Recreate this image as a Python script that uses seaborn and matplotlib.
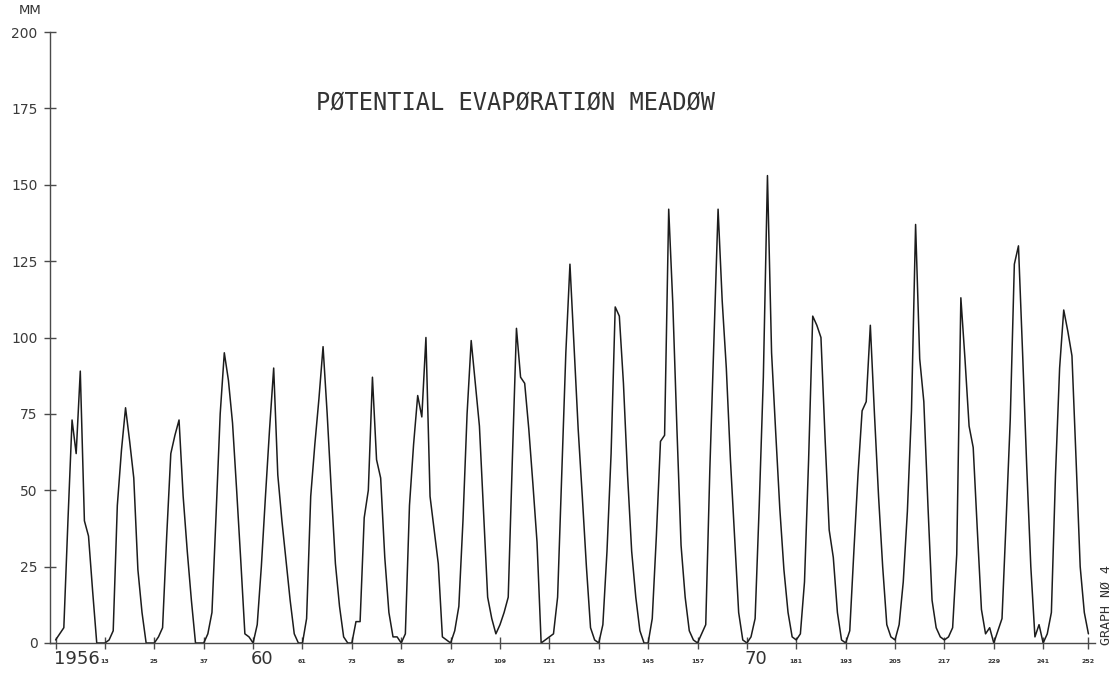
import matplotlib
matplotlib.use("Agg")
import matplotlib.pyplot as plt
import numpy as np
import pandas as pd
import seaborn as sns

# Monthly potential evaporation (mm) from a meadow, January to December
pe_1956 = [1, 3, 5, 40, 73, 62, 89, 40, 35, 17, 0, 0]
pe_1957 = [0, 1, 4, 45, 63, 77, 66, 54, 24, 10, 0, 0]
pe_1958 = [0, 2, 5, 35, 62, 68, 73, 48, 30, 14, 0, 0]
pe_1959 = [0, 3, 10, 42, 75, 95, 86, 72, 50, 27, 3, 2]
pe_1960 = [0, 6, 25, 48, 70, 90, 55, 40, 27, 14, 3, 0]
pe_1961 = [0, 8, 48, 65, 80, 97, 75, 50, 26, 12, 2, 0]
pe_1962 = [0, 7, 7, 41, 50, 87, 60, 54, 28, 10, 2, 2]
pe_1963 = [0, 3, 45, 65, 81, 74, 100, 48, 37, 26, 2, 1]
pe_1964 = [0, 4, 12, 40, 75, 99, 85, 71, 43, 15, 8, 3]
pe_1965 = [6, 10, 15, 60, 103, 87, 85, 70, 52, 33, 0, 1]
pe_1966 = [2, 3, 15, 55, 95, 124, 97, 70, 48, 25, 5, 1]
pe_1967 = [0, 6, 30, 62, 110, 107, 85, 55, 30, 15, 4, 0]
pe_1968 = [0, 8, 35, 66, 68, 142, 111, 70, 32, 15, 4, 1]
pe_1969 = [0, 3, 6, 57, 100, 142, 112, 90, 60, 35, 10, 1]
pe_1970 = [0, 2, 8, 45, 87, 153, 95, 69, 44, 24, 10, 2]
pe_1971 = [1, 3, 20, 60, 107, 104, 100, 67, 37, 28, 10, 1]
pe_1972 = [0, 4, 30, 55, 76, 79, 104, 75, 48, 25, 6, 2]
pe_1973 = [1, 6, 20, 43, 76, 137, 93, 79, 45, 14, 5, 2]
pe_1974 = [1, 2, 5, 29, 113, 93, 71, 64, 37, 11, 3, 5]
pe_1975 = [0, 4, 8, 40, 73, 124, 130, 95, 58, 25, 2, 6]
pe_1976 = [0, 3, 10, 55, 90, 109, 102, 94, 60, 25, 10, 3]

yearly = [pe_1956, pe_1957, pe_1958, pe_1959, pe_1960, pe_1961, pe_1962,
          pe_1963, pe_1964, pe_1965, pe_1966, pe_1967, pe_1968, pe_1969,
          pe_1970, pe_1971, pe_1972, pe_1973, pe_1974, pe_1975, pe_1976]

# Axis ticks: month numbers, with the year shown at Jan 1956, 1960 and 1970
x_tick_months = [1, 13, 25, 37, 49, 61, 73, 85, 97, 109, 121, 133, 145, 157,
                 169, 181, 193, 205, 217, 229, 241, 252]
x_tick_labels = ["1956", "13", "25", "37", "60", "61", "73", "85", "97", "109",
                 "121", "133", "145", "157", "70", "181", "193", "205", "217",
                 "229", "241", "252"]
year_labels = ["1956", "60", "70"]
y_ticks = [0, 25, 50, 75, 100, 125, 150, 175, 200]

title = "PØTENTIAL EVAPØRATIØN MEADØW"
unit = "MM"
graph_no = "GRAPH NØ 4"

values = np.concatenate(yearly)
df = pd.DataFrame({"month": np.arange(1, len(values) + 1), "mm": values})

sns.set_style("white")
plt.rcParams["font.family"] = ["DejaVu Sans"]

W, H = 1117, 675
fig = plt.figure(figsize=(W / 100, H / 100), dpi=100)
fig.patch.set_facecolor("white")
ax = fig.add_axes([50 / W, 1 - 643 / H, 1045 / W, 611 / H])
ax.set_facecolor("white")

sns.lineplot(data=df, x="month", y="mm", ax=ax, color="#1c1c1c",
             linewidth=1.1, estimator=None)

ax.set_xlim(-0.36, 253.6)
ax.set_ylim(0, 200)
ax.set_xlabel("")
ax.set_ylabel("")

for side in ("top", "right"):
    ax.spines[side].set_visible(False)
for side in ("left", "bottom"):
    ax.spines[side].set_color("#4a4a4a")
    ax.spines[side].set_linewidth(1.0)

ax.set_yticks(y_ticks)
ax.set_yticklabels([str(v) for v in y_ticks], fontsize=10, color="#3a3a3a")
ax.set_xticks(x_tick_months)
ax.set_xticklabels([])
ax.tick_params(axis="both", which="major", bottom=True, left=True,
               direction="inout", length=8, width=1.0, color="#4a4a4a")
ax.tick_params(axis="y", pad=5)

# Month-number labels under the ticks, larger year labels at year starts
xt = ax.get_xaxis_transform()
for m, lab in zip(x_tick_months, x_tick_labels):
    if lab in year_labels:
        ax.text(m - 0.5, -0.026, lab, transform=xt, ha="left", va="center",
                fontsize=13, color="#333333", clip_on=False)
    else:
        ax.text(m, -0.030, lab, transform=xt, ha="center", va="center",
                fontsize=4.5, fontweight="bold", color="#333333",
                clip_on=False)

fig.text(515 / W, 1 - 103 / H, title, ha="center", va="center",
         family="DejaVu Sans Mono", fontsize=17, color="#333333")
fig.text(30 / W, 1 - 11 / H, unit, ha="center", va="center",
         fontsize=9.5, color="#333333")
fig.text(1106 / W, 1 - 605 / H, graph_no, ha="center", va="center",
         rotation=90, family="DejaVu Sans Mono", fontsize=9.5,
         color="#333333")

fig.savefig("out.png", dpi=100, facecolor="white")
